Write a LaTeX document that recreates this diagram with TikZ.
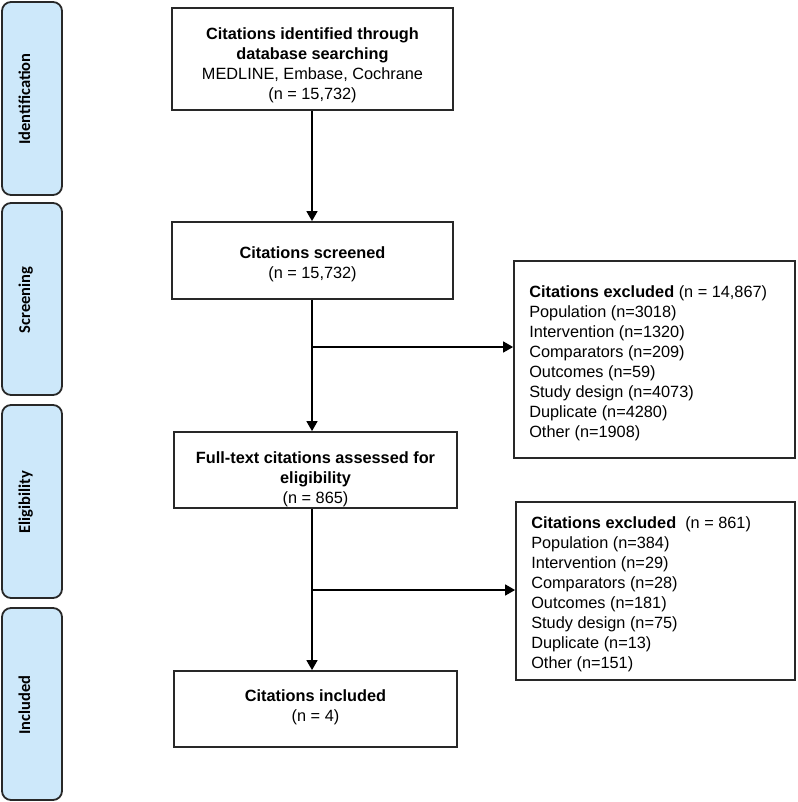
\documentclass[tikz,border=0pt]{standalone}
\usepackage{fontspec}
\setmainfont{Liberation Sans}
\newfontfamily\sidefont{Carlito}
\usetikzlibrary{arrows.meta}
\definecolor{sideblue}{RGB}{205,232,250}
\definecolor{edge}{RGB}{40,40,40}
\begin{document}
\begin{tikzpicture}[x=1pt,y=-1pt,
  font=\fontsize{16.3}{20}\selectfont,
  boxframe/.style={draw=edge,line width=1.8pt,fill=white,inner sep=0pt},
  maintext/.style={align=center,inner sep=0pt},
  excltext/.style={align=left,inner sep=0pt,anchor=west},
  sidebox/.style={draw=edge,line width=1.8pt,fill=sideblue,rounded corners=9pt},
  sidelabel/.style={rotate=90,anchor=base,font=\sidefont\bfseries\fontsize{16.5}{20}\selectfont},
  arr/.style={draw=black,line width=1.6pt,-{Triangle[length=10pt,width=11pt]}}]
\useasboundingbox (0,0) rectangle (797,802);
% side phase boxes
\node[sidebox,minimum width=60pt,minimum height=193pt] (sId) at (32,98.5) {};
\node[sidebox,minimum width=60pt,minimum height=192pt] (sSc) at (32,299) {};
\node[sidebox,minimum width=60pt,minimum height=193pt] (sEl) at (32,501.5) {};
\node[sidebox,minimum width=60pt,minimum height=192pt] (sIn) at (32,704) {};
\node[sidelabel] (lId) at (30,99) {Identification};
\node[sidelabel] (lSc) at (30,300) {Screening};
\node[sidelabel] (lEl) at (30,502.5) {Eligibility};
\node[sidelabel] (lIn) at (30,705) {Included};
% main boxes
\node[boxframe,minimum width=281pt,minimum height=102pt] (b1) at (312.5,59) {};
\node[maintext] (t1) at ([yshift=-6pt]b1.center)
  {\textbf{Citations identified through}\\\textbf{database searching}\\MEDLINE, Embase, Cochrane\\(n = 15,732)};
\node[boxframe,minimum width=281pt,minimum height=77pt] (b2) at (312.5,260.5) {};
\node[maintext] (t2) at ([yshift=-4pt]b2.center)
  {\textbf{Citations screened}\\(n = 15,732)};
\node[boxframe,minimum width=283pt,minimum height=76pt] (b3) at (315.5,470) {};
\node[maintext] (t3) at ([yshift=-9pt]b3.center)
  {\textbf{Full-text citations assessed  for}\\\textbf{eligibility}\\(n = 865)};
\node[boxframe,minimum width=283pt,minimum height=76pt] (b4) at (315.5,709) {};
\node[maintext] (t4) at ([yshift=2pt]b4.center)
  {\textbf{Citations included}\\(n = 4)};
% exclusion boxes
\node[boxframe,minimum width=281pt,minimum height=197pt] (e1) at (654.5,359.5) {};
\node[excltext] (x1) at ([xshift=16pt,yshift=-4pt]e1.west)
  {\textbf{Citations excluded} (n = 14,867)\\Population (n=3018)\\Intervention (n=1320)\\Comparators (n=209)\\Outcomes (n=59)\\Study design (n=4073)\\Duplicate (n=4280)\\Other (n=1908)};
\node[boxframe,minimum width=279pt,minimum height=178pt] (e2) at (655.5,591) {};
\node[excltext] (x2) at ([xshift=16pt,yshift=-3pt]e2.west)
  {\textbf{Citations excluded}\ \ (n = 861)\\Population (n=384)\\Intervention (n=29)\\Comparators (n=28)\\Outcomes (n=181)\\Study design (n=75)\\Duplicate (n=13)\\Other (n=151)};
% connectors
\coordinate (spine) at (312,0);
\coordinate (br1) at (312,347);
\coordinate (br2) at (312,590);
\draw[arr] (b1.south -| spine) -- (b2.north -| spine);
\draw[arr] (b2.south -| spine) -- (b3.north -| spine);
\draw[arr] (b3.south -| spine) -- (b4.north -| spine);
\draw[arr] (br1) -- (br1 -| e1.west);
\draw[arr] (br2) -- (br2 -| e2.west);
\end{tikzpicture}
\end{document}
